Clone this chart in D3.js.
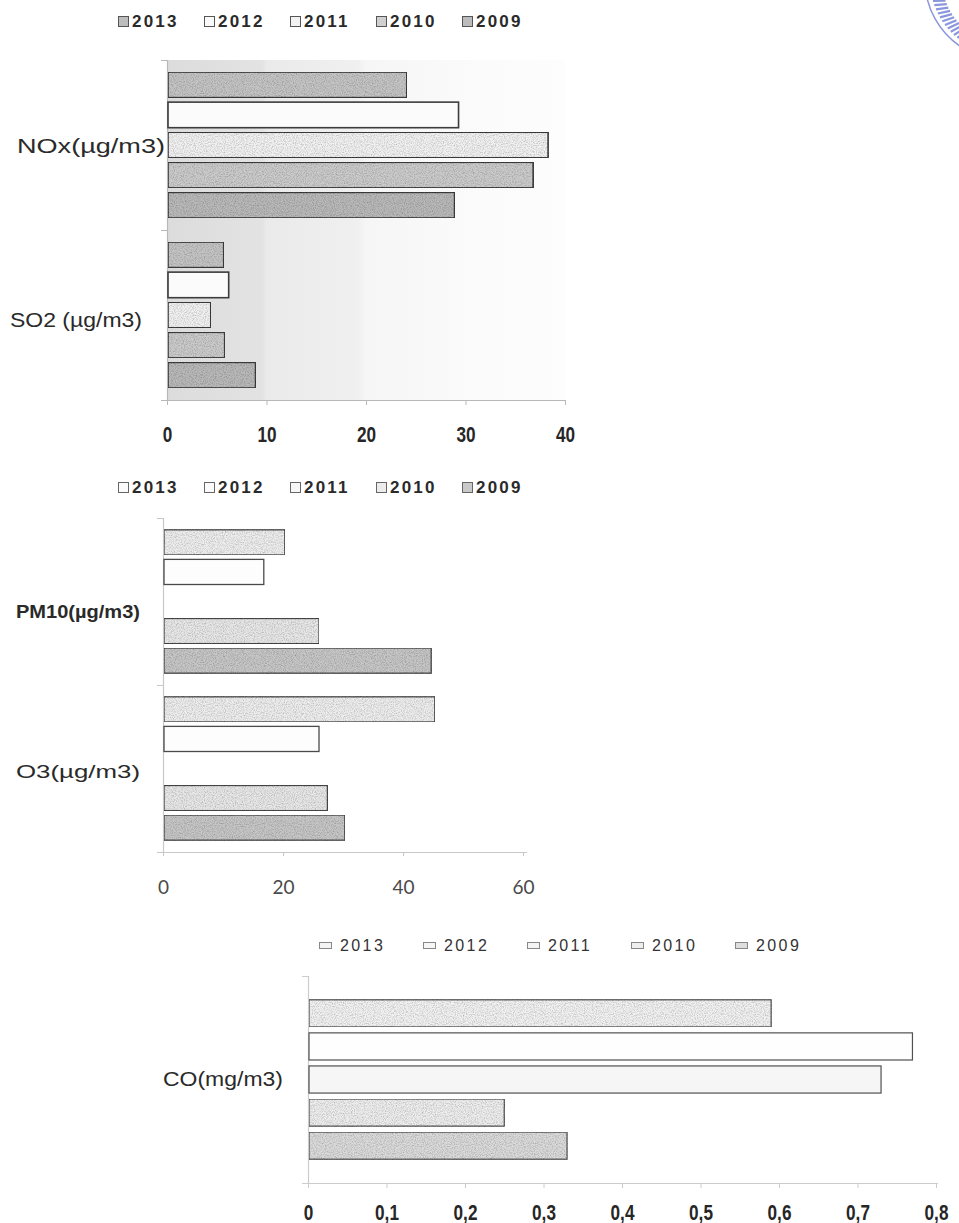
<!DOCTYPE html>
<html>
<head>
<meta charset="utf-8">
<script src="https://cdn.jsdelivr.net/npm/d3@7"></script>
<style>
  html, body { margin: 0; padding: 0; background: #fff; }
  svg { display: block; }
</style>
</head>
<body>
<svg id="chart" width="959" height="1223"></svg>
<script>
// ---- data ----
const years = ["2013", "2012", "2011", "2010", "2009"];

const gasCategories = ["NOx(µg/m3)", "SO2 (µg/m3)"];
const noxValues = [24.1, 29.3, 38.3, 36.8, 28.9];
const so2Values = [5.7, 6.2, 4.4, 5.8, 8.9];
const gasTicks = [0, 10, 20, 30, 40];

const particleCategories = ["PM10(µg/m3)", "O3(µg/m3)"];
const pm10Values = [20.3, 16.8, null, 26.0, 44.7];
const o3Values = [45.3, 26.0, null, 27.4, 30.3];
const particleTicks = [0, 20, 40, 60];

const coCategories = ["CO(mg/m3)"];
const coValues = [0.59, 0.77, 0.73, 0.25, 0.33];
const coTicks = [0, 0.1, 0.2, 0.3, 0.4, 0.5, 0.6, 0.7, 0.8];

// ---- helpers ----
const svg = d3.select("#chart");
const defs = svg.append("defs");

const arial = "'Liberation Sans', Arial, sans-serif";

// grain used on the shaded bars
const grain = defs.append("filter").attr("id", "grain")
  .attr("x", 0).attr("y", 0).attr("width", 1).attr("height", 1);
grain.append("feTurbulence").attr("type", "fractalNoise")
  .attr("baseFrequency", 0.9).attr("numOctaves", 2).attr("seed", 3).attr("result", "noise");
grain.append("feColorMatrix").attr("in", "noise").attr("type", "matrix")
  .attr("values", "0 0 0 0 0  0 0 0 0 0  0 0 0 0 0  0 0 0 -0.9 0.55").attr("result", "dots");
grain.append("feComposite").attr("in", "dots").attr("in2", "SourceGraphic").attr("operator", "in").attr("result", "dotsIn");
grain.append("feMerge").call(m => {
  m.append("feMergeNode").attr("in", "SourceGraphic");
  m.append("feMergeNode").attr("in", "dotsIn");
});

// shaded plot background of the first panel
const bgGrad = defs.append("linearGradient").attr("id", "plotShade")
  .attr("x1", 0).attr("x2", 1).attr("y1", 0).attr("y2", 0);
[[0, "#dcdcdc"], [0.24, "#e3e3e3"], [0.25, "#eaeaea"], [0.48, "#f0f0f0"], [0.5, "#f6f6f6"], [0.8, "#fbfbfb"], [1, "#fdfdfd"]]
  .forEach(([o, c]) => bgGrad.append("stop").attr("offset", o).attr("stop-color", c));

function drawPanel(cfg) {
  const g = svg.append("g");
  const x = d3.scaleLinear().domain(cfg.domain).range([cfg.left, cfg.right]);
  const yCat = d3.scaleBand().domain(cfg.categories).range([cfg.top, cfg.bottom]).padding(0);
  const ySer = d3.scaleBand().domain(years).range([0, yCat.bandwidth()])
    .paddingInner(cfg.padInner).paddingOuter(cfg.padOuter);

  if (cfg.shade) {
    g.append("rect")
      .attr("x", x(0)).attr("y", cfg.top)
      .attr("width", x(cfg.domain[1]) - x(0)).attr("height", cfg.bottom - cfg.top)
      .attr("fill", "url(#plotShade)");
  }

  // x axis
  const fmt = cfg.format || (d => String(d));
  const xAxis = d3.axisBottom(x).tickValues(cfg.ticks).tickSize(cfg.tickSize).tickFormat(fmt);
  const ax = g.append("g").attr("transform", `translate(0,${cfg.bottom})`).call(xAxis);
  ax.select(".domain").attr("stroke", cfg.axisColor).attr("stroke-width", 1.2)
    .attr("d", `M${x(0) - 6},0.5H${cfg.axisEnd || x(cfg.domain[1])}`);
  ax.selectAll(".tick line").attr("stroke", cfg.axisColor);
  ax.selectAll(".tick text")
    .attr("y", cfg.labelOffset).attr("dy", 0)
    .attr("transform", `scale(${cfg.tickScaleX},1)`)
    .style("font-family", cfg.tickFont).style("font-size", cfg.tickSizeFont + "px")
    .style("font-weight", cfg.tickWeight).attr("fill", cfg.tickColor);

  // vertical axis with ticks at the category boundaries
  g.append("line").attr("x1", x(0) + 0.5).attr("x2", x(0) + 0.5)
    .attr("y1", cfg.top).attr("y2", cfg.bottom)
    .attr("stroke", cfg.axisColor).attr("stroke-width", 1.2);
  const bounds = cfg.categories.map(c => yCat(c)).concat([cfg.bottom]);
  g.selectAll(".ytick").data(bounds).join("line")
    .attr("x1", x(0) - 6).attr("x2", x(0))
    .attr("y1", d => d + 0.5).attr("y2", d => d + 0.5)
    .attr("stroke", cfg.axisColor);

  // category labels
  g.selectAll(".cat").data(cfg.categories).join("text")
    .attr("x", (d, i) => cfg.catX[i] - cfg.catWidth[i])
    .attr("y", (d, i) => yCat(d) + yCat.bandwidth() / 2 + cfg.catDy[i])
    .attr("dy", "0.35em")
    .attr("textLength", (d, i) => cfg.catWidth[i])
    .attr("lengthAdjust", "spacingAndGlyphs")
    .style("font-family", arial)
    .style("font-size", cfg.catSize + "px")
    .style("font-weight", (d, i) => cfg.catWeight[i])
    .attr("fill", "#2a2a2a")
    .text(d => d);

  // bars
  cfg.categories.forEach((cat, ci) => {
    const vals = cfg.values[ci];
    const rows = years.map((yr, i) => ({ yr, i, v: vals[i] })).filter(r => r.v != null);
    g.append("g").selectAll("rect").data(rows).join("rect")
      .attr("x", x(0) + 1)
      .attr("y", r => yCat(cat) + ySer(r.yr))
      .attr("width", r => x(r.v) - x(0) - 1)
      .attr("height", ySer.bandwidth())
      .attr("fill", r => cfg.fills[r.i])
      .attr("stroke", cfg.barStroke)
      .attr("stroke-width", cfg.barStrokeWidth)
      .attr("filter", r => cfg.grainy[r.i] ? "url(#grain)" : null);
  });

  // legend
  const lg = g.append("g");
  years.forEach((yr, i) => {
    const lx = cfg.legendX + i * cfg.legendStep;
    lg.append("rect")
      .attr("x", lx + 0.5).attr("y", cfg.legendY - cfg.swatchH / 2 + 0.5)
      .attr("width", cfg.swatchW).attr("height", cfg.swatchH)
      .attr("fill", cfg.legendFills[i]).attr("stroke", cfg.legendStroke).attr("stroke-width", 1);
    lg.append("text")
      .attr("x", lx + cfg.swatchW + cfg.legendGap).attr("y", cfg.legendY).attr("dy", "0.36em")
      .style("font-family", arial).style("font-size", cfg.legendSize + "px")
      .style("font-weight", cfg.legendWeight).style("letter-spacing", cfg.legendSpacing + "px")
      .attr("fill", cfg.legendColor)
      .text(yr);
  });
}

// panel 1: NOx and SO2
drawPanel({
  categories: gasCategories, values: [noxValues, so2Values],
  domain: [0, 40], ticks: gasTicks,
  left: 167, right: 565, top: 60, bottom: 400,
  padInner: 0.15, padOuter: 0.4, shade: true,
  fills: ["#c4c4c4", "#fbfbfb", "#f1f1f1", "#cbcbcb", "#b9b9b9"],
  grainy: [true, false, true, true, true],
  barStroke: "#3c3c3c", barStrokeWidth: 1.6,
  axisColor: "#b8b8b8", tickSize: 5,
  tickFont: arial, tickSizeFont: 22, tickWeight: "bold", tickColor: "#262626", tickScaleX: 0.78, labelOffset: 42,
  catSize: 20, catWeight: ["normal", "normal"], catX: [165, 142], catWidth: [148, 132], catDy: [1, 5],
  legendX: 118, legendStep: 86, legendY: 21, swatchW: 10, swatchH: 10, legendGap: 4,
  legendSize: 17, legendWeight: "bold", legendSpacing: 2.2, legendColor: "#2a2a2a",
  legendFills: ["#bdbdbd", "#fafafa", "#f2f2f2", "#d0d0d0", "#bcbcbc"], legendStroke: "#555"
});

// panel 2: PM10 and O3
drawPanel({
  categories: particleCategories, values: [pm10Values, o3Values],
  domain: [0, 60], ticks: particleTicks,
  left: 163, right: 523, top: 518, bottom: 852, axisEnd: 527,
  padInner: 0.15, padOuter: 0.4, shade: false,
  fills: ["#ededed", "#fdfdfd", "#f4f4f4", "#e7e7e7", "#c6c6c6"],
  grainy: [true, false, true, true, true],
  barStroke: "#4a4a4a", barStrokeWidth: 1.3,
  axisColor: "#c8c8c8", tickSize: 4,
  tickFont: "Lato, 'Open Sans', sans-serif", tickSizeFont: 19, tickWeight: "normal", tickColor: "#4a4a4a", tickScaleX: 1, labelOffset: 42,
  catSize: 19, catWeight: ["bold", "normal"], catX: [140, 140], catWidth: [124, 124], catDy: [10, 3],
  legendX: 118, legendStep: 86, legendY: 487, swatchW: 10, swatchH: 10, legendGap: 4,
  legendSize: 17, legendWeight: "bold", legendSpacing: 2.2, legendColor: "#2a2a2a",
  legendFills: ["#fbfbfb", "#fbfbfb", "#f7f7f7", "#ececec", "#c9c9c9"], legendStroke: "#666"
});

// panel 3: CO
drawPanel({
  categories: coCategories, values: [coValues],
  domain: [0, 0.8], ticks: coTicks,
  format: d => d === 0 ? "0" : d3.format(".1f")(d).replace(".", ","),
  left: 308, right: 936, top: 976, bottom: 1183, axisEnd: 938,
  padInner: 0.18, padOuter: 0.72, shade: false,
  fills: ["#f1f1f1", "#fefefe", "#f6f6f6", "#ededed", "#dadada"],
  grainy: [true, false, false, true, true],
  barStroke: "#505050", barStrokeWidth: 1.2,
  axisColor: "#cccccc", tickSize: 5,
  tickFont: arial, tickSizeFont: 22, tickWeight: "bold", tickColor: "#262626", tickScaleX: 0.78, labelOffset: 37,
  catSize: 21, catWeight: ["normal"], catX: [283], catWidth: [120], catDy: [-1],
  legendX: 319, legendStep: 104, legendY: 945, swatchW: 12, swatchH: 6, legendGap: 9,
  legendSize: 16, legendWeight: "normal", legendSpacing: 2.4, legendColor: "#333",
  legendFills: ["#f4f4f4", "#f6f6f6", "#f4f4f4", "#eeeeee", "#dedede"], legendStroke: "#888"
});

// faint round stamp in the top right corner
const stamp = svg.append("g").attr("transform", "translate(1005,-20)")
  .attr("stroke", "#8a97dc").attr("fill", "none");
const arc = d3.arc();
stamp.append("path").attr("stroke-width", 1.5)
  .attr("d", arc({ innerRadius: 80, outerRadius: 80, startAngle: 3.6, endAngle: 4.8 }));
d3.range(3.78, 4.46, 0.06).forEach(a => {
  stamp.append("line").attr("stroke-width", 2.2)
    .attr("x1", Math.sin(a) * 63).attr("y1", -Math.cos(a) * 63)
    .attr("x2", Math.sin(a + 0.05) * 75).attr("y2", -Math.cos(a + 0.05) * 75);
});
</script>
</body>
</html>
